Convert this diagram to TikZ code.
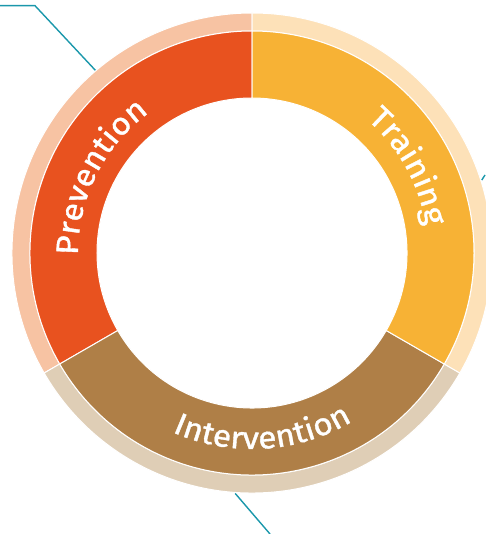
\documentclass[tikz,border=0pt]{standalone}
\usepackage{fontspec}
\usepackage{tikz}
\usetikzlibrary{decorations.text}
\newfontfamily\ringfont[FakeStretch=1.08, FakeBold=1.2]{Fira Sans}
\definecolor{prevmain}{HTML}{E8521F}
\definecolor{prevpale}{HTML}{F7C3A3}
\definecolor{trainmain}{HTML}{F7B235}
\definecolor{trainpale}{HTML}{FDE1B8}
\definecolor{intmain}{HTML}{AF7F47}
\definecolor{intpale}{HTML}{DFCEB6}
\definecolor{leadercol}{HTML}{1A97AB}

\begin{document}
\begin{tikzpicture}[x=1pt,y=1pt,
    ringlabel/.style={decorate, decoration={text along path, text align=center,
      text color=white, text={|\ringfont\fontsize{31}{31}\selectfont|#1}}},
    leader/.style={draw=leadercol, line width=1.4pt}]
  \useasboundingbox (-252,-281) rectangle (233,253);

  % leader lines
  \coordinate (prevfree) at (-252,247.3);
  \coordinate (prevbend) at (-217,247.3);
  \coordinate (prevtip) at (130.6:240);
  \coordinate (intfree) at (18,-281);
  \coordinate (inttip) at (-94:241);
  \coordinate (trainfree) at (233,78);
  \coordinate (traintip) at (17.6:241);
  \draw [leader] (prevfree) -- (prevbend) -- (prevtip);
  \draw [leader] (inttip) -- (intfree);
  \draw [leader] (traintip) -- (trainfree);

  % pale outer ring
  \draw [color = white, fill = prevpale, line width=1pt] (90:222) arc[start angle=90, end angle=210, radius=222] -- (210:240) arc[start angle=210, end angle=90, radius=240] -- cycle;
  \draw [color = white, fill = intpale, line width=1pt] (210:222) arc[start angle=210, end angle=330, radius=222] -- (330:240) arc[start angle=330, end angle=210, radius=240] -- cycle;
  \draw [color = white, fill = trainpale, line width=1pt] (-30:222) arc[start angle=-30, end angle=90, radius=222] -- (90:240) arc[start angle=90, end angle=-30, radius=240] -- cycle;

  % main ring
  \draw [color = white, fill = prevmain, line width=1pt] (90:155) arc[start angle=90, end angle=210, radius=155] -- (210:222) arc[start angle=210, end angle=90, radius=222] -- cycle;
  \draw [color = white, fill = intmain, line width=1pt] (210:155) arc[start angle=210, end angle=330, radius=155] -- (330:222) arc[start angle=330, end angle=210, radius=222] -- cycle;
  \draw [color = white, fill = trainmain, line width=1pt] (-30:155) arc[start angle=-30, end angle=90, radius=155] -- (90:222) arc[start angle=90, end angle=-30, radius=222] -- cycle;

  % labels
  \path [ringlabel=Prevention] (203.5:174) arc[start angle=203.5, end angle=103.5, radius=174];
  \path [ringlabel=Training] (79:176) arc[start angle=79, end angle=-21, radius=176];
  \path [ringlabel=Intervention] (-136.6:196) arc[start angle=-136.6, end angle=-36.6, radius=196];
\end{tikzpicture}
\end{document}
